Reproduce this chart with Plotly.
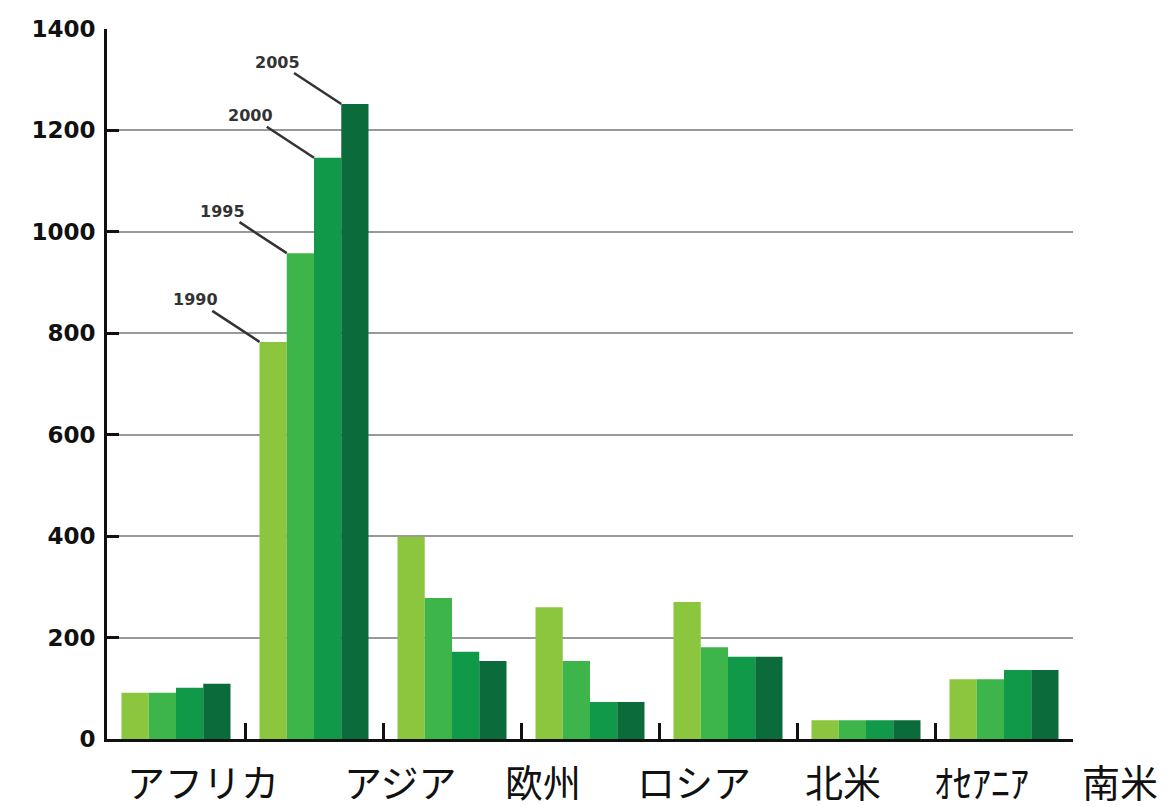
import plotly.graph_objects as go

# Regions (x categories) and yearly values
regions = ["アフリカ", "アジア", "欧州", "ロシア", "北米", "ｵｾｱﾆｱ", "南米"]
years = ["1990", "1995", "2000", "2005"]
v1990 = [91, 783, 399, 260, 270, 37, 118]
v1995 = [91, 958, 278, 154, 181, 37, 118]
v2000 = [101, 1146, 172, 73, 162, 37, 136]
v2005 = [109, 1252, 154, 73, 162, 37, 136]
series = [v1990, v1995, v2000, v2005]

colors = ["#8CC63F", "#3DB54A", "#11994A", "#0B6B3A"]
y_ticks = [0, 200, 400, 600, 800, 1000, 1200, 1400]

# Bars occupy positions 0..6; the name row under the axis is laid out separately
name_x_paper = [0.099, 0.303, 0.451, 0.608, 0.762, 0.905, 1.049]

fig = go.Figure()
xpos = list(range(len(regions)))
for yr, vals, c in zip(years, series, colors):
    fig.add_trace(go.Bar(x=xpos, y=vals, name=yr, marker=dict(color=c, line=dict(width=0))))

bargap = 0.21
group_w = 1 - bargap
bar_w = group_w / len(years)

annotations = []
# Year call-outs pointing at the top-left corner of each bar in the second group
asia = 1
for i, (yr, vals) in enumerate(zip(years, series)):
    annotations.append(dict(
        x=asia - group_w / 2 + i * bar_w, y=vals[asia], xref="x", yref="y",
        text=yr, showarrow=True, arrowhead=0, arrowwidth=2.5, arrowcolor="#333333",
        ax=-64, ay=-42, font=dict(family="DejaVu Sans", size=16, color="#333333", weight="bold"),
        standoff=0,
    ))

for name, px in zip(regions, name_x_paper):
    annotations.append(dict(
        x=px, y=-0.058, xref="paper", yref="paper", text=name, showarrow=False,
        xanchor="center", yanchor="middle",
        font=dict(family="Noto Sans CJK JP", size=38, color="#111111"),
    ))

fig.update_layout(
    width=1167, height=807,
    margin=dict(l=107, r=94, t=29, b=68),
    paper_bgcolor="white", plot_bgcolor="white",
    barmode="group", bargap=bargap, bargroupgap=0,
    showlegend=False,
    annotations=annotations,
    xaxis=dict(
        range=[-0.5, len(regions) - 0.5], tickvals=[i + 0.5 for i in xpos], showticklabels=False,
        ticks="inside", ticklen=16, tickwidth=3, tickcolor="#111111",
        showline=True, linecolor="#111111", linewidth=3, showgrid=False, zeroline=False,
    ),
    yaxis=dict(
        range=[0, 1400], tickvals=y_ticks, ticktext=[str(t) for t in y_ticks],
        ticks="inside", ticklen=12, tickwidth=3, tickcolor="#111111",
        showline=True, linecolor="#111111", linewidth=3,
        showgrid=True, gridcolor="#999999", gridwidth=2, zeroline=False,
        tickfont=dict(family="DejaVu Sans", size=23, color="#111111", weight="bold"),
        ticklabelstandoff=4,
    ),
)

fig.write_html("out.html")
